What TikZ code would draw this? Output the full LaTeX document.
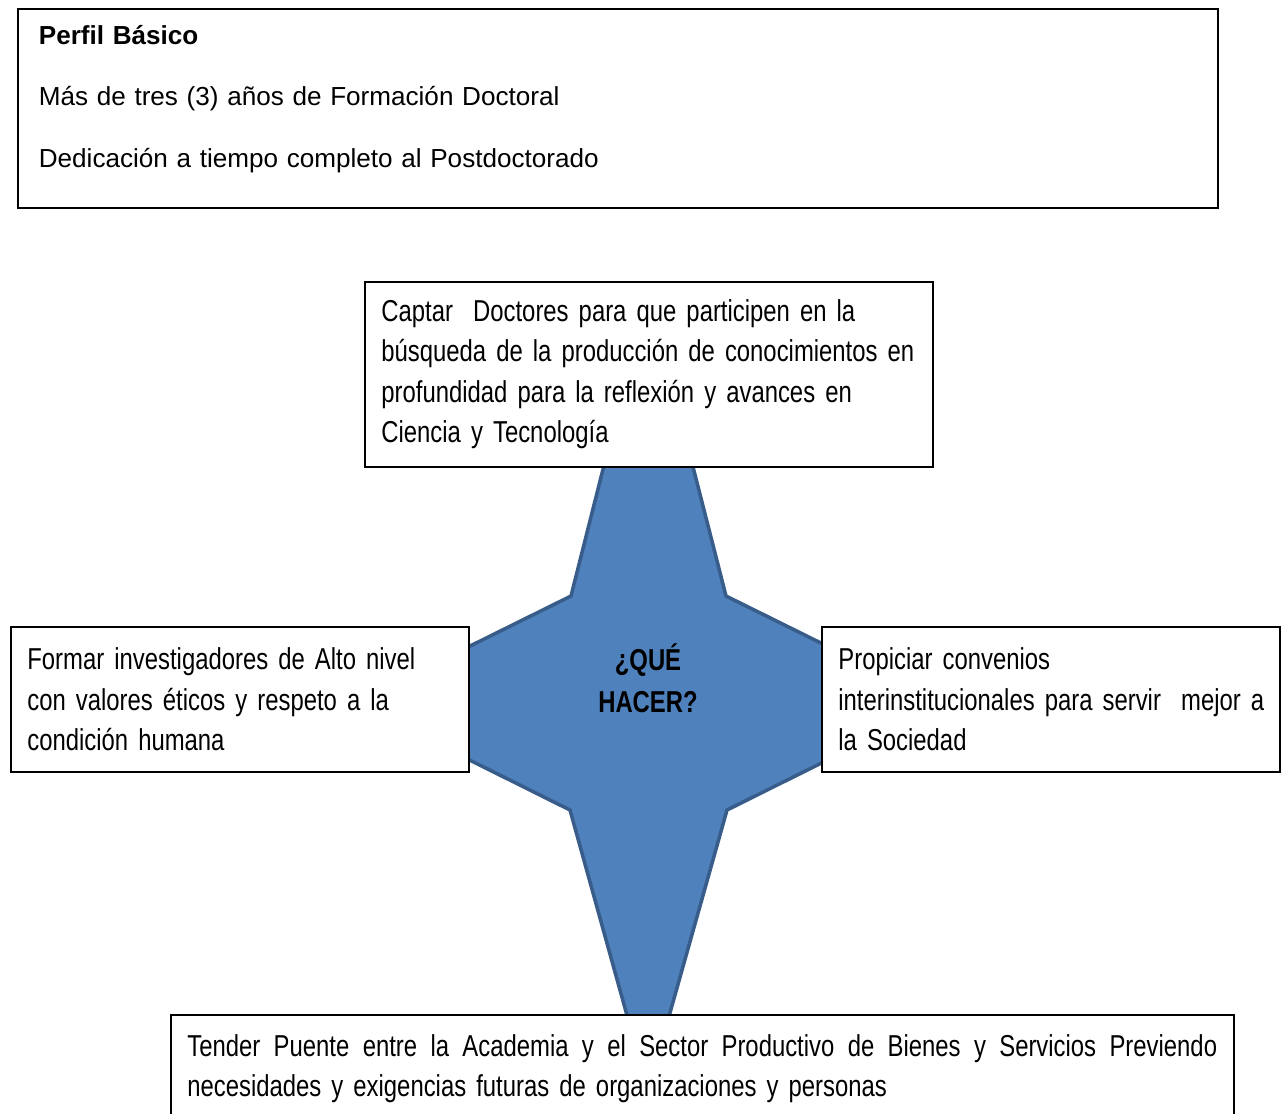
\documentclass[tikz,border=0pt]{standalone}
\usepackage{fontspec}
\setmainfont{Liberation Sans}
\newfontfamily\narrowfont[FakeStretch=0.79]{Liberation Sans}
\definecolor{StarFill}{HTML}{4F81BD}
\definecolor{StarEdge}{HTML}{385D8A}
\definecolor{Ink}{HTML}{000000}

\begin{document}
\begin{tikzpicture}[x=0.02cm,y=-0.02cm,every node/.style={text=Ink},panel/.style={draw=Ink,fill=white,line width=1pt,anchor=north west,align=left,inner ysep=0pt},aim/.style={panel,inner xsep=0.33cm,font=\narrowfont\fontsize{17.2pt}{23pt}\selectfont}]
\useasboundingbox[fill=white] (0,0) rectangle (1283,1113);
\node[panel,inner xsep=0.42cm,text width=23.16cm,text height=0.71cm,text depth=3.27cm,font=\fontsize{14.85pt}{35pt}\selectfont] (perfil) at (17,8) {\textbf{Perfil Básico}\\Más de tres (3) años de Formación Doctoral\\Dedicación a tiempo completo al Postdoctorado};
\draw[fill=StarFill,draw=StarEdge,line width=2pt] (648,291) -- (726,596) -- (942,703) -- (727,810) -- (648,1091) -- (570,810) -- (355,703) -- (571,596) -- cycle;
\node[font=\narrowfont\bfseries\fontsize{17.2pt}{24pt}\selectfont,align=center] (que) at (648,678) {¿QUÉ\\HACER?};
\node[aim,text width=10.7cm,minimum height=3.7cm] (captar) at (364,281) {Captar\ \ Doctores para que participen en la\\búsqueda de la producción de conocimientos en\\profundidad para la reflexión y avances en\\Ciencia y Tecnología};
\node[aim,text width=8.5cm,minimum height=2.9cm] (formar) at (10,626) {Formar investigadores de Alto nivel\\con valores éticos y respeto a la\\condición humana};
\node[aim,text width=8.5cm,minimum height=2.9cm] (propiciar) at (821,626) {Propiciar convenios\\\mbox{interinstitucionales para servir\ \ mejor a}\\la Sociedad};
\node[aim,text width=20.6cm,minimum height=2.16cm] (tender) at (170,1014) {\hbox to 20.6cm{\spaceskip=0.2em plus 1em\relax Tender Puente entre la Academia y el Sector Productivo de Bienes y Servicios Previendo}\\necesidades y exigencias futuras de organizaciones y personas};
\end{tikzpicture}
\end{document}
